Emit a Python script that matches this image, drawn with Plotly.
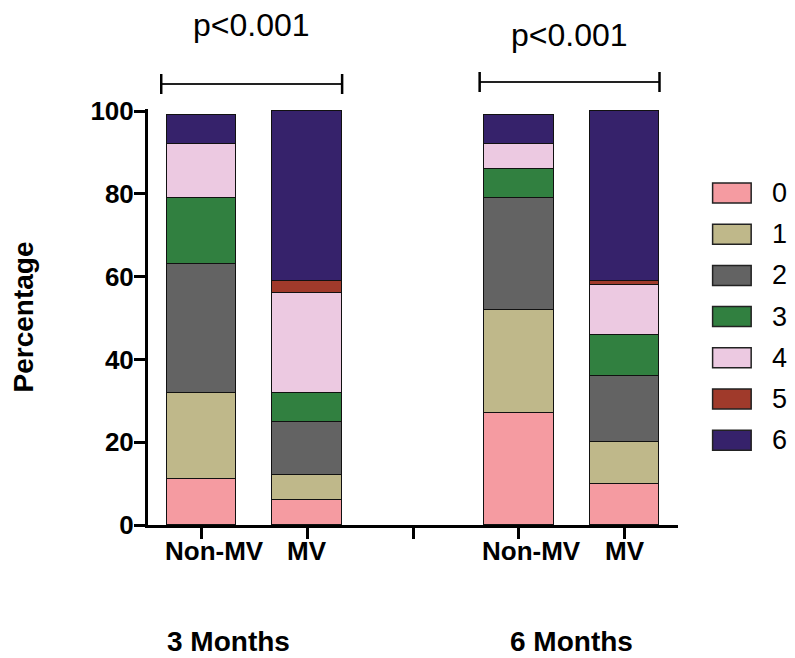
import plotly.graph_objects as go

# ---- data ----
bar_positions = [0, 1, 3, 4]
tick_positions = [0, 1, 2, 3, 4]
tick_labels = ["Non-MV", "MV", "", "Non-MV", "MV"]
tick_label_shift = [13, 0, 0, 13, 0]
scores = ["0", "1", "2", "3", "4", "5", "6"]
score0 = [11, 6, 27, 10]
score1 = [21, 6, 25, 10]
score2 = [31, 13, 27, 16]
score3 = [16, 7, 7, 10]
score4 = [13, 24, 6, 12]
score5 = [0, 3, 0, 1]
score6 = [7, 41, 7, 41]
series = [score0, score1, score2, score3, score4, score5, score6]
colors = ["#F59BA1", "#BFB88A", "#636363", "#318040", "#ECC9E1", "#A03A2B", "#36226B"]
group_labels = ["3 Months", "6 Months"]
group_label_x = [0.26, 3.5]
p_texts = ["p<0.001", "p<0.001"]
bracket_spans = [(-0.38, 1.33), (2.63, 4.33)]

FONT = "Liberation Sans, Arial, Helvetica, sans-serif"
OFF = 8  # default page body margin
W, H = 795 - OFF, 658 - OFF
# plot area in page pixels: left 142, right 678, top 109, bottom 525
L, T = 142 - OFF, 109 - OFF
plot_w = 678 - 142
plot_h = 525 - 109
R = W - L - plot_w
B = H - T - plot_h

def px_to_paper_x(px):
    return (px - 142) / plot_w

def px_to_paper_y(py):
    return (525 - py) / plot_h

fig = go.Figure()
for name, vals, col in zip(scores, series, colors):
    fig.add_trace(go.Bar(
        x=bar_positions, y=vals, name=name, width=0.66,
        marker=dict(color=col, line=dict(color="#111111", width=1.5)),
        showlegend=False,
    ))

shapes = []
annotations = []

# significance brackets and p-values
bracket_y_px = [84, 82]
p_y_px = [25, 35]
for (x0, x1), by, pt, py in zip(bracket_spans, bracket_y_px, p_texts, p_y_px):
    yc = px_to_paper_y(by)
    y_hi = px_to_paper_y(by - 10)
    y_lo = px_to_paper_y(by + 10)
    line = dict(color="#222222", width=2)
    shapes.append(dict(type="line", xref="x", yref="paper", x0=x0, x1=x1, y0=yc, y1=yc, line=line))
    shapes.append(dict(type="line", xref="x", yref="paper", x0=x0, x1=x0, y0=y_lo, y1=y_hi, line=dict(color="black", width=2.5)))
    shapes.append(dict(type="line", xref="x", yref="paper", x0=x1, x1=x1, y0=y_lo, y1=y_hi, line=dict(color="black", width=2.5)))
    annotations.append(dict(text=pt, xref="x", yref="paper", x=(x0 + x1) / 2, y=px_to_paper_y(py),
                            showarrow=False, xanchor="center", yanchor="middle", borderpad=0,
                            font=dict(family=FONT, size=32, color="black")))

# category labels under the ticks
for tp, tl, sh in zip(tick_positions, tick_labels, tick_label_shift):
    if tl:
        annotations.append(dict(text="<b>%s</b>" % tl, xref="x", yref="paper", x=tp, xshift=sh,
                                y=px_to_paper_y(551), showarrow=False, xanchor="center", yanchor="middle",
                                font=dict(family=FONT, size=26, color="black")))

# group labels
for gl, gx in zip(group_labels, group_label_x):
    annotations.append(dict(text="<b>%s</b>" % gl, xref="x", yref="paper", x=gx, y=px_to_paper_y(641),
                            showarrow=False, xanchor="center", yanchor="middle",
                            font=dict(family=FONT, size=28, color="black")))

# custom legend
for i, (name, col) in enumerate(zip(scores, colors)):
    yc = 193 + 41.2 * i
    shapes.append(dict(type="rect", xref="paper", yref="paper",
                       x0=px_to_paper_x(713), x1=px_to_paper_x(752),
                       y0=px_to_paper_y(yc + 10), y1=px_to_paper_y(yc - 10),
                       fillcolor=col, line=dict(color="#222222", width=1.5)))
    annotations.append(dict(text=name, xref="paper", yref="paper", x=px_to_paper_x(771), y=px_to_paper_y(yc),
                            showarrow=False, xanchor="left", yanchor="middle",
                            font=dict(family=FONT, size=27, color="black")))

fig.update_layout(
    barmode="stack",
    width=W, height=H,
    margin=dict(l=L, r=R, t=T, b=B, pad=0),
    plot_bgcolor="white", paper_bgcolor="white",
    shapes=shapes, annotations=annotations,
    font=dict(family=FONT, color="black"),
    xaxis=dict(range=[-0.505, 4.505], tickvals=tick_positions, showticklabels=False,
               showline=True, linecolor="black", linewidth=3, ticks="outside", ticklen=11, tickwidth=3,
               tickcolor="black", showgrid=False, zeroline=False),
    yaxis=dict(range=[0, 100.5], tickvals=[0, 20, 40, 60, 80, 100],
               ticktext=["<b>%d</b>" % v for v in [0, 20, 40, 60, 80, 100]],
               showline=True, linecolor="black", linewidth=3, ticks="outside", ticklen=11, tickwidth=3,
               tickcolor="black", showgrid=False, zeroline=False, ticklabelstandoff=-5,
               tickfont=dict(family=FONT, size=26, color="black"),
               title=dict(text="<b>Percentage</b>", font=dict(family=FONT, size=28, color="black"), standoff=51)),
    bargap=0,
)

fig.write_html("out.html")
